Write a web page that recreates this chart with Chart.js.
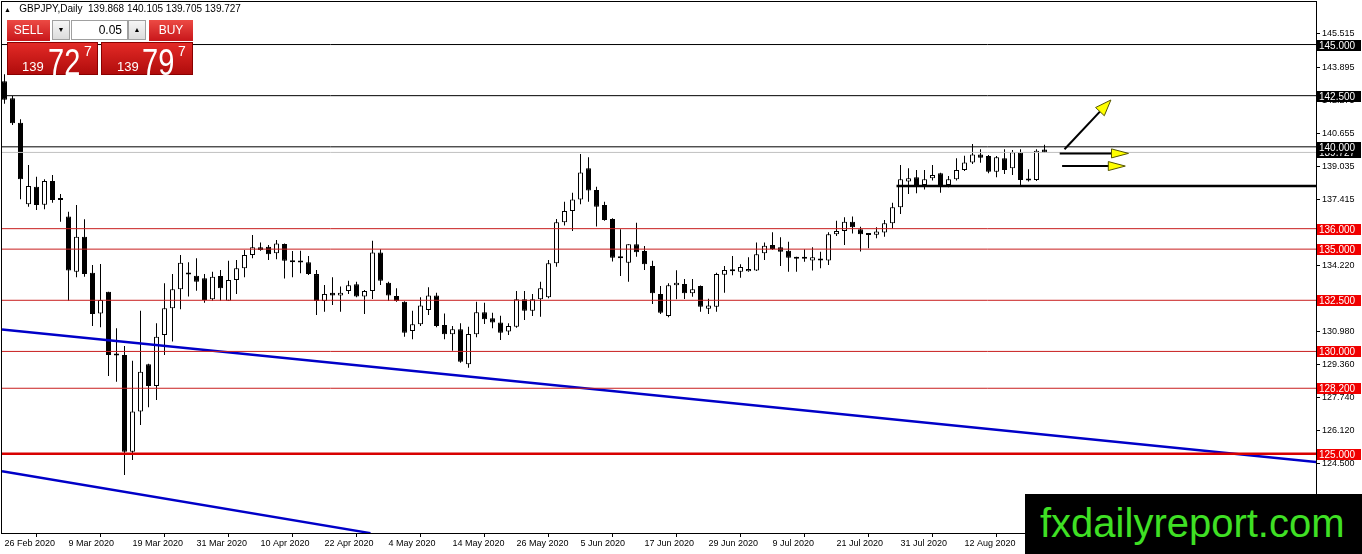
<!DOCTYPE html>
<html><head><meta charset="utf-8">
<script src="https://cdn.jsdelivr.net/npm/chart.js@4.4.1/dist/chart.umd.min.js"></script>
<style>
html,body{margin:0;padding:0;background:#fff;overflow:hidden}
#wrap{position:relative;width:1362px;height:554px;font-family:"Liberation Sans",Arial,sans-serif}
#c{position:absolute;left:0;top:0}
.abs{position:absolute;box-sizing:border-box}
#hdr{left:4px;top:3px;font-size:10px;color:#000;white-space:nowrap}
.rbtn{top:20px;height:21px;background:linear-gradient(#ec4a44,#c8161a);color:#fff;font-size:12px;text-align:center;line-height:21px}
.spin{top:20px;height:20px;width:18px;background:linear-gradient(#f6f6f6,#dcdcdc);border:1px solid #a0a0a0;font-size:7px;text-align:center;line-height:18px;color:#000}
#inp{left:71px;top:20px;width:57px;height:20px;background:#fff;border:1px solid #a0a0a0;font-size:12px;text-align:right;padding-right:5px;line-height:18px;color:#000}
.pbox{top:42px;height:33px;background:linear-gradient(#e32a26,#b00c0c);border:1px solid #8a0000;color:#fff}
.sm{position:absolute;font-size:13px;top:16px}
.big{position:absolute;font-size:29px;top:-1px;transform:scaleY(1.25);transform-origin:top left}
.sup{position:absolute;font-size:14px;top:0px}
#wm{left:1025px;top:494px;width:337px;height:60px;background:#000;color:#3fe024;font-size:40px;line-height:58px;padding-left:15px;white-space:nowrap}
</style></head>
<body><div id="wrap">
<canvas id="c" width="1362" height="554"></canvas>
<div id="hdr" class="abs"><span style="font-size:7px">&#9650;</span>&nbsp;&nbsp; GBPJPY,Daily&nbsp; 139.868 140.105 139.705 139.727</div>
<div class="abs rbtn" style="left:7px;width:43px">SELL</div>
<div class="abs spin" style="left:52px">&#9660;</div>
<div id="inp" class="abs">0.05</div>
<div class="abs spin" style="left:128px">&#9650;</div>
<div class="abs rbtn" style="left:149px;width:44px">BUY</div>
<div class="abs pbox" style="left:7px;width:91px"><span class="sm" style="left:14px">139</span><span class="big" style="left:40px">72</span><span class="sup" style="left:76px">7</span></div>
<div class="abs pbox" style="left:101px;width:92px"><span class="sm" style="left:15px">139</span><span class="big" style="left:40px">79</span><span class="sup" style="left:76px">7</span></div>
<div id="wm" class="abs">fxdailyreport.com</div>
</div>
<script>
// ---- data ----
const opens  = [143.20,142.37,141.18,137.19,138.05,137.17,138.33,137.46,136.59,133.90,135.61,133.85,131.86,132.92,129.86,129.83,125.10,127.06,129.37,128.31,130.80,132.11,133.04,133.80,133.70,133.58,132.55,133.69,132.48,133.49,134.06,134.71,135.09,135.12,134.80,135.25,134.40,134.38,134.36,133.78,132.46,132.87,132.74,132.95,133.28,132.68,132.95,134.84,133.36,132.71,132.43,131.00,131.33,132.03,132.74,131.29,130.84,131.08,129.37,130.84,131.91,131.62,131.42,130.97,131.21,132.55,131.99,132.55,132.65,134.31,136.31,136.86,137.43,138.95,137.89,137.16,136.47,134.62,134.34,135.24,134.91,134.17,132.81,131.73,133.23,133.30,132.84,133.20,132.09,132.19,133.75,133.98,133.90,133.92,133.95,134.80,135.20,135.09,134.92,134.60,134.53,134.44,134.50,134.44,135.73,135.89,136.34,135.97,135.71,135.70,135.81,136.26,137.05,138.30,138.51,138.13,138.46,138.71,138.13,138.41,138.87,139.24,139.63,139.55,138.78,139.44,138.95,139.73,138.40,138.38,139.868];
const highs  = [143.55,142.49,141.35,139.11,138.54,138.41,138.62,137.70,136.83,137.16,136.46,134.23,134.27,132.92,131.13,130.27,129.55,131.99,129.40,131.38,133.33,133.78,134.71,134.36,134.55,133.78,133.90,133.98,134.43,134.47,134.96,135.69,135.33,135.20,135.45,135.28,134.91,134.92,134.67,133.98,133.25,133.62,133.17,133.46,133.41,133.00,135.41,134.99,133.41,133.09,132.45,131.99,132.65,133.14,132.87,131.86,131.24,131.38,131.21,132.43,132.38,131.89,131.75,131.38,132.95,132.95,132.81,133.41,134.47,136.47,137.32,137.76,139.65,139.49,138.05,137.32,136.51,135.97,135.24,136.29,135.15,134.43,133.20,133.33,133.97,133.54,133.54,133.22,132.58,133.85,134.17,134.67,134.26,134.60,135.33,135.33,135.82,135.58,135.36,134.63,134.99,135.09,134.87,135.82,136.39,136.56,136.59,136.10,135.74,136.07,136.42,137.27,139.11,138.95,138.87,138.87,139.11,138.73,138.57,139.44,139.57,140.14,139.88,139.60,139.55,139.88,139.85,139.88,138.90,139.88,140.105];
const lows   = [142.10,141.07,137.44,137.07,136.91,136.95,137.27,136.34,132.48,133.62,133.65,131.24,131.18,128.80,128.52,123.96,124.69,126.41,127.27,127.63,129.83,130.48,132.06,132.68,132.97,132.38,132.48,132.48,132.46,132.81,133.62,134.55,134.92,134.47,134.50,133.57,133.62,133.82,133.73,131.78,131.94,132.27,131.94,132.81,132.65,131.83,132.56,133.25,132.46,132.43,130.72,130.59,131.24,131.78,131.18,130.59,130.03,129.45,129.20,130.69,131.34,131.13,130.56,130.80,131.16,131.54,131.73,131.70,132.60,134.14,136.15,135.89,137.19,137.32,136.11,136.39,134.39,133.69,133.41,134.63,133.98,132.32,131.83,131.67,132.55,132.56,132.67,131.94,131.83,131.94,132.87,133.72,133.60,133.90,133.93,134.47,134.96,134.17,133.90,133.90,134.38,133.95,134.06,134.23,135.64,135.20,135.77,134.88,135.04,135.53,135.61,136.01,136.72,137.69,137.73,137.92,138.35,137.76,138.02,138.35,138.82,139.16,139.22,138.71,138.51,138.67,138.62,138.13,138.30,138.33,139.705];
const closes = [142.30,141.15,138.41,138.09,137.16,138.33,137.40,137.40,133.95,135.61,133.78,131.83,132.51,129.83,129.80,125.10,127.06,129.01,128.31,130.72,132.11,133.04,134.34,133.76,133.41,132.51,133.65,133.09,133.49,134.06,134.71,135.09,134.96,134.75,135.28,134.43,134.36,134.35,133.78,132.46,132.81,132.74,132.87,133.23,132.68,132.95,134.84,133.46,132.74,132.46,130.91,131.33,132.24,132.74,131.24,130.84,131.08,129.50,130.85,131.91,131.57,131.41,130.91,131.24,132.55,131.99,132.55,133.09,134.31,136.31,136.86,137.43,138.75,137.86,137.07,136.42,134.58,134.56,135.24,134.85,134.26,132.84,131.89,133.23,133.36,132.84,133.04,132.19,132.24,133.78,133.98,133.92,134.13,134.03,134.75,135.17,135.01,134.87,134.58,134.53,134.57,134.60,134.44,135.73,135.89,136.34,136.07,135.73,135.69,135.86,136.26,137.05,138.42,138.46,138.09,138.41,138.62,138.09,138.41,138.87,139.24,139.63,139.47,138.78,139.49,138.87,139.73,138.38,138.35,139.81,139.727];
const tickBars   = [0,8,16,24,32,40,48,56,64,72,80,88,96,104,112,120];
const tickLabels = ["26 Feb 2020","9 Mar 2020","19 Mar 2020","31 Mar 2020","10 Apr 2020","22 Apr 2020","4 May 2020","14 May 2020","26 May 2020","5 Jun 2020","17 Jun 2020","29 Jun 2020","9 Jul 2020","21 Jul 2020","31 Jul 2020","12 Aug 2020"];
const yTicks = [145.515,143.895,142.275,140.655,139.035,137.415,135.840,134.220,132.600,130.980,129.360,127.740,126.120,124.500,122.880];
const blackLevels = [145.000,142.500,140.000];
const redLevels   = [136.000,135.000,132.500,130.000,128.200];
const mainRedLevel = [125.000];
const bidPrice = 139.727;
const supportLevel = 138.09, supportFromBar = 112;
const trend1 = [[-0.3125,131.07],[164,124.59]];
const trend2 = [[-0.3125,124.15],[45.75,121.12]];
const arrowsDiag = [[132.5,139.88,138.3,142.29]];
const arrowsFlat = [[131.9,140.5,139.68],[132.2,140.1,139.06]];
const X_MIN = -0.3125, X_MAX = 163.9375, Y_MIN = 121.126, Y_MAX = 147.079;

Chart.defaults.font.family = '"Liberation Sans", Arial, sans-serif';
Chart.defaults.color = '#000';

const hline = (v, color, w, x0) => ({type:'line', data:[{x:(x0===undefined?X_MIN:x0),y:v},{x:X_MAX,y:v}], borderColor:color, borderWidth:w, pointRadius:0, order:0, fill:false, tension:0});
const lineDs = [];
lineDs.push(hline(bidPrice,'#c0c0c0',1));
blackLevels.forEach(v=>lineDs.push(hline(v,'#000',1)));
redLevels.forEach(v=>lineDs.push(hline(v,'#c81e1e',1)));
mainRedLevel.forEach(v=>lineDs.push(hline(v,'#d80000',2.5)));
lineDs.push(hline(supportLevel,'#000',2.5,supportFromBar-0.5));
[trend1,trend2].forEach(t=>lineDs.push({type:'line',data:t.map(p=>({x:p[0],y:p[1]})),borderColor:'#0000c8',borderWidth:2.5,pointRadius:0,order:0,fill:false}));

const levelBoxes = {
  id:'levelBoxes',
  afterDraw(chart){
    const ctx = chart.ctx, ys = chart.scales.y, ca = chart.chartArea;
    ctx.save();
    ctx.strokeStyle='#000'; ctx.lineWidth=1;
    ctx.strokeRect(ca.left-0.5, ca.top-0.5, ca.right-ca.left+1, ca.bottom-ca.top+1);
    ctx.font='10px "Liberation Sans", Arial, sans-serif';
    ctx.textBaseline='middle'; ctx.textAlign='left';
    const box=(v,bg,fg)=>{
      const y=Math.round(ys.getPixelForValue(v));
      ctx.fillStyle=bg; ctx.fillRect(ca.right+1, y-5, 44, 11);
      ctx.fillStyle=fg; ctx.fillText(v.toFixed(3), ca.right+3, y+1);
    };
    box(bidPrice,'#000','#fff');
    blackLevels.forEach(v=>box(v,'#000','#fff'));
    redLevels.concat(mainRedLevel).forEach(v=>box(v,'#f00000','#fff'));
    ctx.restore();
  }
};
const arrowPlugin = {
  id:'arrows',
  afterDatasetsDraw(chart){
    const ctx=chart.ctx, xs=chart.scales.x, ys=chart.scales.y;
    ctx.save();
    const draw=(x0,y0,x1,y1,len,half)=>{
      const ang=Math.atan2(y1-y0,x1-x0);
      const bx=x1-len*Math.cos(ang), by=y1-len*Math.sin(ang);
      ctx.strokeStyle='#000'; ctx.lineWidth=2;
      ctx.beginPath(); ctx.moveTo(x0,y0); ctx.lineTo(bx+2*Math.cos(ang),by+2*Math.sin(ang)); ctx.stroke();
      ctx.beginPath();
      ctx.moveTo(x1,y1);
      ctx.lineTo(bx+half*Math.sin(ang), by-half*Math.cos(ang));
      ctx.lineTo(bx-half*Math.sin(ang), by+half*Math.cos(ang));
      ctx.closePath();
      ctx.fillStyle='#ffff00'; ctx.fill();
      ctx.strokeStyle='#555500'; ctx.lineWidth=1; ctx.stroke();
    };
    arrowsDiag.forEach(a=>draw(xs.getPixelForValue(a[0]),ys.getPixelForValue(a[1]),xs.getPixelForValue(a[2]),ys.getPixelForValue(a[3]),16,6));
    arrowsFlat.forEach(a=>draw(xs.getPixelForValue(a[0]),ys.getPixelForValue(a[2]),xs.getPixelForValue(a[1]),ys.getPixelForValue(a[2]),17,4.5));
    ctx.restore();
  }
};

const wicks = highs.map((h,i)=>({x:i,y:[lows[i],h]}));
const bodies = opens.map((o,i)=>({x:i,y:[o,closes[i]]}));
const bodyColors = opens.map((o,i)=> closes[i]>=o ? '#ffffff' : '#000000');

new Chart(document.getElementById('c'), {
  type:'bar',
  data:{datasets:[
    ...lineDs,
    {type:'bar',data:bodies,backgroundColor:bodyColors,borderColor:'#000',borderWidth:1,borderSkipped:false,barThickness:5,minBarLength:2,grouped:false,order:1,inflateAmount:0},
    {type:'bar',data:wicks,backgroundColor:'#000',borderWidth:0,barThickness:1,grouped:false,order:2,inflateAmount:0}
  ]},
  options:{
    responsive:false, animation:false, devicePixelRatio:1,
    layout:{padding:{left:2,top:2,right:0,bottom:0}},
    plugins:{legend:{display:false},tooltip:{enabled:false}},
    scales:{
      x:{type:'linear',min:X_MIN,max:X_MAX,offset:false,
        afterBuildTicks(s){s.ticks=tickBars.map(v=>({value:v}));},
        afterFit(s){s.height=21;s.paddingLeft=0;s.paddingRight=0;},
        ticks:{autoSkip:false,maxRotation:0,minRotation:0,align:'start',padding:1,font:{size:9},color:'#000',
          callback(v){const k=tickBars.indexOf(v);return k>=0?tickLabels[k]:'';}},
        grid:{drawOnChartArea:false,drawTicks:true,tickLength:4,color:'#000'},
        border:{display:true,color:'#000',width:1}},
      y:{type:'linear',position:'right',min:Y_MIN,max:Y_MAX,
        afterBuildTicks(s){s.ticks=yTicks.map(v=>({value:v}));},
        afterFit(s){s.width=46;s.paddingTop=0;s.paddingBottom=0;},
        ticks:{autoSkip:false,padding:2,font:{size:9},color:'#000',callback(v){return Number(v).toFixed(3);}},
        grid:{drawOnChartArea:false,drawTicks:true,tickLength:4,color:'#000'},
        border:{display:true,color:'#000',width:1}}
    }
  },
  plugins:[levelBoxes,arrowPlugin]
});
</script>
</body></html>
